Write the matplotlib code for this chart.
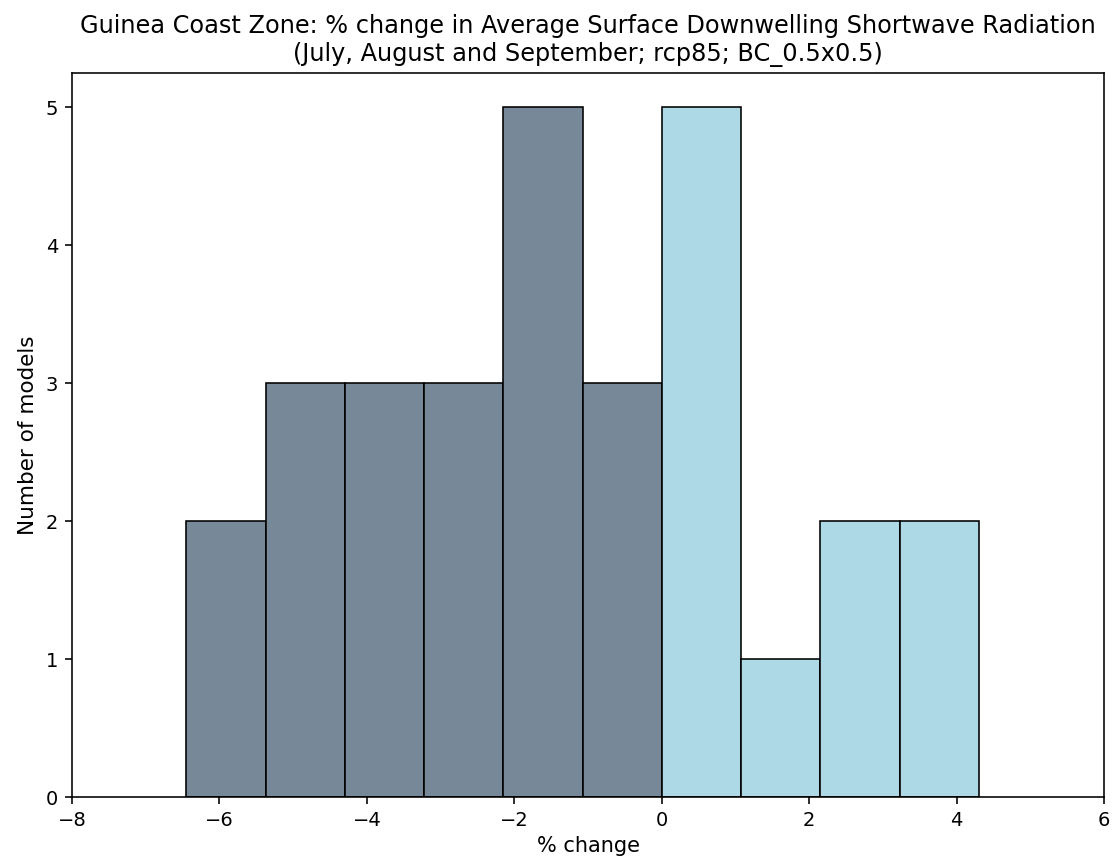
import matplotlib
matplotlib.use("Agg")
import matplotlib.pyplot as plt

# bin edges (% change) and model counts
bin_edges = [-6.45, -5.375, -4.3, -3.225, -2.15, -1.075, 0.0, 1.075, 2.15, 3.225, 4.3]
counts = [2, 3, 3, 3, 5, 3, 5, 1, 2, 2]

s = 1.44  # the reference looks like a default figure scaled up

fig = plt.figure(figsize=(11.15, 8.65), dpi=100)
ax = fig.add_axes([0.0646, 0.0786, 0.9256, 0.837])

lefts = bin_edges[:-1]
widths = [b - a for a, b in zip(bin_edges[:-1], bin_edges[1:])]
colors = ['lightslategray' if l < 0 else 'lightblue' for l in lefts]
ax.bar(lefts, counts, width=widths, align='edge', color=colors,
       edgecolor='black', linewidth=0.8 * s)

ax.set_xlim(-8, 6)
ax.set_ylim(0, 5.25)
for sp in ax.spines.values():
    sp.set_linewidth(0.8 * s)
ax.tick_params(labelsize=14, length=3.5 * s, width=0.8 * s, pad=3.5 * s)
ax.set_xlabel('% change', fontsize=15, labelpad=3 * s)
ax.set_ylabel('Number of models', fontsize=15.5, labelpad=4 * s)
ax.set_title('Guinea Coast Zone: % change in Average Surface Downwelling Shortwave Radiation\n'
             '(July, August and September; rcp85; BC_0.5x0.5)', fontsize=12 * s, pad=6 * s)

fig.savefig('out.png', dpi=100)
